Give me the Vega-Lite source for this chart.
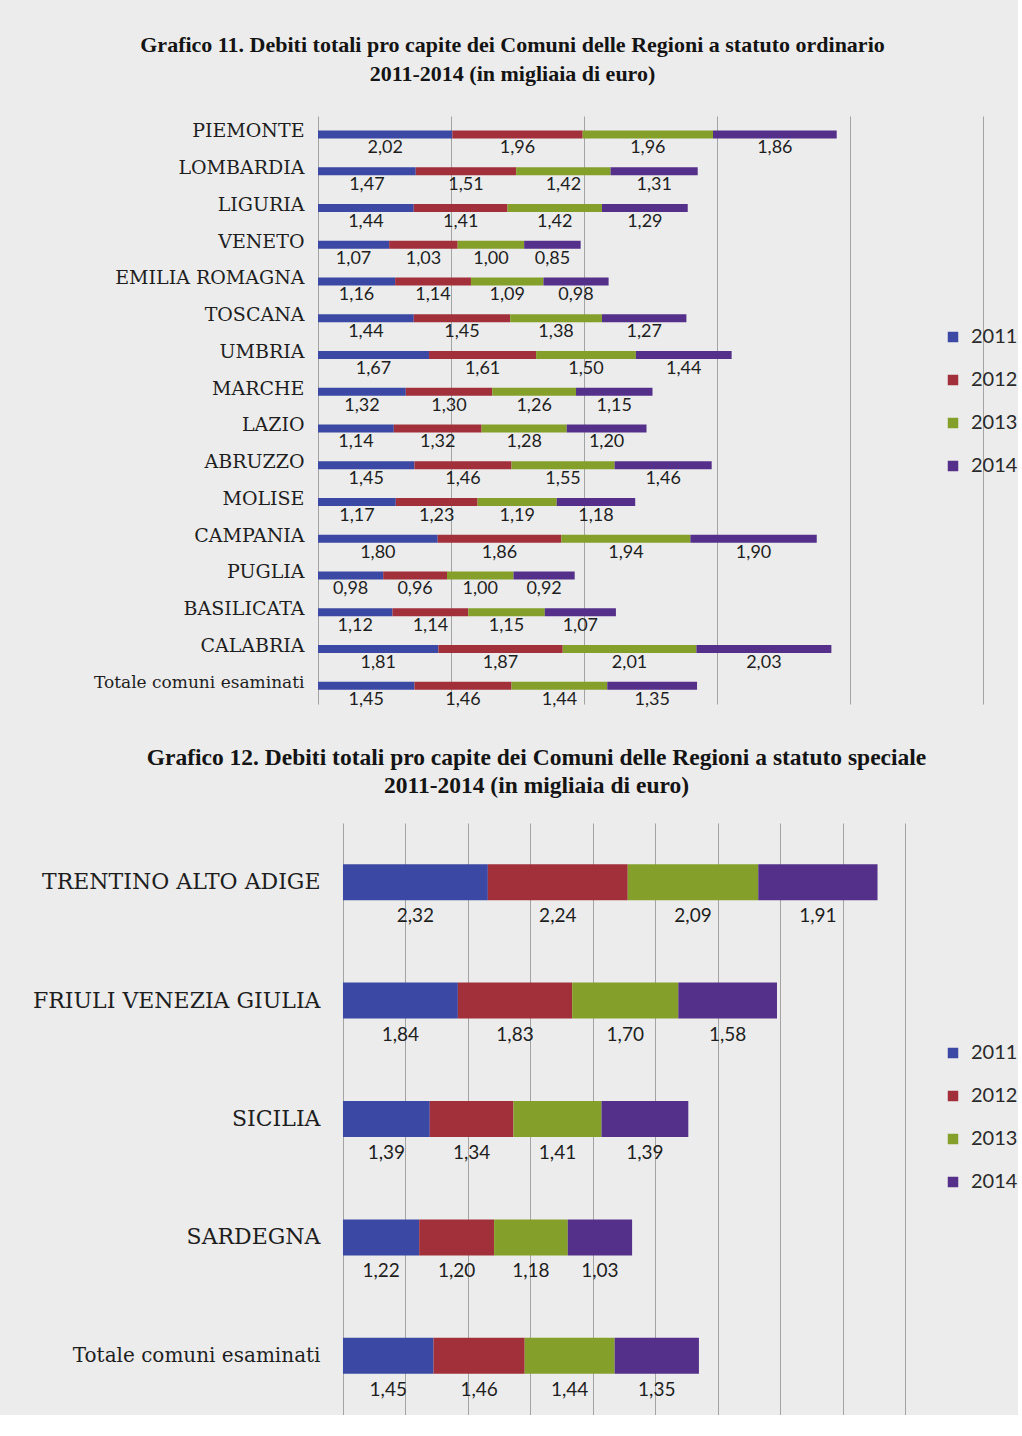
{
  "$schema": "https://vega.github.io/schema/vega-lite/v6.json",
  "background": "#ececec",
  "padding": {"left": 0, "top": 34, "right": 0, "bottom": 0},
  "autosize": {"type": "pad"},
  "bounds": "flush",
  "spacing": 119,
  "config": {
    "locale": {"number": {"decimal": ",", "thousands": ".", "grouping": [3], "currency": ["€", ""]}},
    "view": {"stroke": null},
    "axis": {"gridColor": "#a3a3a3", "gridOpacity": 1, "gridWidth": 1, "domain": false, "ticks": false},
    "legend": {"symbolStrokeWidth": 0},
    "title": {"font": "Liberation Serif", "fontSize": 22, "fontWeight": "bold", "color": "#141414", "lineHeight": 29, "anchor": "middle", "frame": "group"}
  },
  "resolve": {"scale": {"color": "independent"}, "legend": {"color": "independent"}},
  "vconcat": [
    {
      "width": 665,
      "height": 588,
      "title": {"text": ["Grafico 11. Debiti totali pro capite dei Comuni delle Regioni a statuto ordinario", "2011-2014 (in migliaia di euro)"], "dx": -138, "offset": 30},
      "data": {"values": [
        {"region": "PIEMONTE", "year": "2011", "value": 2.02}, {"region": "PIEMONTE", "year": "2012", "value": 1.96}, {"region": "PIEMONTE", "year": "2013", "value": 1.96}, {"region": "PIEMONTE", "year": "2014", "value": 1.86},
        {"region": "LOMBARDIA", "year": "2011", "value": 1.47}, {"region": "LOMBARDIA", "year": "2012", "value": 1.51}, {"region": "LOMBARDIA", "year": "2013", "value": 1.42}, {"region": "LOMBARDIA", "year": "2014", "value": 1.31},
        {"region": "LIGURIA", "year": "2011", "value": 1.44}, {"region": "LIGURIA", "year": "2012", "value": 1.41}, {"region": "LIGURIA", "year": "2013", "value": 1.42}, {"region": "LIGURIA", "year": "2014", "value": 1.29},
        {"region": "VENETO", "year": "2011", "value": 1.07}, {"region": "VENETO", "year": "2012", "value": 1.03}, {"region": "VENETO", "year": "2013", "value": 1.00}, {"region": "VENETO", "year": "2014", "value": 0.85},
        {"region": "EMILIA ROMAGNA", "year": "2011", "value": 1.16}, {"region": "EMILIA ROMAGNA", "year": "2012", "value": 1.14}, {"region": "EMILIA ROMAGNA", "year": "2013", "value": 1.09}, {"region": "EMILIA ROMAGNA", "year": "2014", "value": 0.98},
        {"region": "TOSCANA", "year": "2011", "value": 1.44}, {"region": "TOSCANA", "year": "2012", "value": 1.45}, {"region": "TOSCANA", "year": "2013", "value": 1.38}, {"region": "TOSCANA", "year": "2014", "value": 1.27},
        {"region": "UMBRIA", "year": "2011", "value": 1.67}, {"region": "UMBRIA", "year": "2012", "value": 1.61}, {"region": "UMBRIA", "year": "2013", "value": 1.50}, {"region": "UMBRIA", "year": "2014", "value": 1.44},
        {"region": "MARCHE", "year": "2011", "value": 1.32}, {"region": "MARCHE", "year": "2012", "value": 1.30}, {"region": "MARCHE", "year": "2013", "value": 1.26}, {"region": "MARCHE", "year": "2014", "value": 1.15},
        {"region": "LAZIO", "year": "2011", "value": 1.14}, {"region": "LAZIO", "year": "2012", "value": 1.32}, {"region": "LAZIO", "year": "2013", "value": 1.28}, {"region": "LAZIO", "year": "2014", "value": 1.20},
        {"region": "ABRUZZO", "year": "2011", "value": 1.45}, {"region": "ABRUZZO", "year": "2012", "value": 1.46}, {"region": "ABRUZZO", "year": "2013", "value": 1.55}, {"region": "ABRUZZO", "year": "2014", "value": 1.46},
        {"region": "MOLISE", "year": "2011", "value": 1.17}, {"region": "MOLISE", "year": "2012", "value": 1.23}, {"region": "MOLISE", "year": "2013", "value": 1.19}, {"region": "MOLISE", "year": "2014", "value": 1.18},
        {"region": "CAMPANIA", "year": "2011", "value": 1.80}, {"region": "CAMPANIA", "year": "2012", "value": 1.86}, {"region": "CAMPANIA", "year": "2013", "value": 1.94}, {"region": "CAMPANIA", "year": "2014", "value": 1.90},
        {"region": "PUGLIA", "year": "2011", "value": 0.98}, {"region": "PUGLIA", "year": "2012", "value": 0.96}, {"region": "PUGLIA", "year": "2013", "value": 1.00}, {"region": "PUGLIA", "year": "2014", "value": 0.92},
        {"region": "BASILICATA", "year": "2011", "value": 1.12}, {"region": "BASILICATA", "year": "2012", "value": 1.14}, {"region": "BASILICATA", "year": "2013", "value": 1.15}, {"region": "BASILICATA", "year": "2014", "value": 1.07},
        {"region": "CALABRIA", "year": "2011", "value": 1.81}, {"region": "CALABRIA", "year": "2012", "value": 1.87}, {"region": "CALABRIA", "year": "2013", "value": 2.01}, {"region": "CALABRIA", "year": "2014", "value": 2.03},
        {"region": "Totale comuni esaminati", "year": "2011", "value": 1.45}, {"region": "Totale comuni esaminati", "year": "2012", "value": 1.46}, {"region": "Totale comuni esaminati", "year": "2013", "value": 1.44}, {"region": "Totale comuni esaminati", "year": "2014", "value": 1.35}
      ]},
      "encoding": {
        "y": {
          "field": "region", "type": "nominal", "sort": null,
          "scale": {"paddingInner": 0, "paddingOuter": 0},
          "axis": {
            "title": ".", "titleX": -318, "titleY": 0, "titleAngle": 0, "titleAlign": "left", "titleBaseline": "top", "titleOpacity": 0,
            "labelFont": "DejaVu Serif",
            "labelFontSize": {"condition": {"test": "datum.value === 'Totale comuni esaminati'", "value": 17}, "value": 19},
            "labelColor": "#1e1e1e", "labelPadding": 14, "labelLimit": 400, "labelOffset": -3
          }
        }
      },
      "layer": [
        {
          "mark": {"type": "bar", "size": 8},
          "encoding": {
            "x": {"field": "value", "type": "quantitative", "stack": "zero", "scale": {"domain": [0, 10], "nice": false}, "axis": {"values": [0, 2, 4, 6, 8, 10], "labels": false, "title": null, "grid": true}},
            "color": {"field": "year", "type": "nominal", "scale": {"domain": ["2011", "2012", "2013", "2014"], "range": ["#3b48a4", "#a2303b", "#84a02b", "#54308a"]},
              "legend": {"orient": "none", "legendX": 625, "legendY": 211, "title": null, "symbolType": "square", "symbolSize": 110, "labelFont": "Lato", "labelFontSize": 20, "labelColor": "#2a2a2a", "rowPadding": 23, "labelOffset": 8}},
            "order": {"field": "year", "sort": "ascending"}
          }
        },
        {
          "mark": {"type": "text", "dy": 14, "font": "Lato", "fontSize": 18, "color": "#1e1e1e"},
          "encoding": {
            "x": {"field": "value", "type": "quantitative", "stack": "zero", "bandPosition": 0.5},
            "detail": {"field": "year"},
            "order": {"field": "year", "sort": "ascending"},
            "text": {"field": "value", "type": "quantitative", "format": ".2f"}
          }
        }
      ]
    },
    {
      "width": 587,
      "height": 592,
      "title": {"text": ["Grafico 12. Debiti totali pro capite dei Comuni delle Regioni a statuto speciale", "2011-2014 (in migliaia di euro)"], "dx": -75, "offset": 26, "fontSize": 23.5, "lineHeight": 28},
      "data": {"values": [
        {"region": "TRENTINO ALTO ADIGE", "year": "2011", "value": 2.32}, {"region": "TRENTINO ALTO ADIGE", "year": "2012", "value": 2.24}, {"region": "TRENTINO ALTO ADIGE", "year": "2013", "value": 2.09}, {"region": "TRENTINO ALTO ADIGE", "year": "2014", "value": 1.91},
        {"region": "FRIULI VENEZIA GIULIA", "year": "2011", "value": 1.84}, {"region": "FRIULI VENEZIA GIULIA", "year": "2012", "value": 1.83}, {"region": "FRIULI VENEZIA GIULIA", "year": "2013", "value": 1.70}, {"region": "FRIULI VENEZIA GIULIA", "year": "2014", "value": 1.58},
        {"region": "SICILIA", "year": "2011", "value": 1.39}, {"region": "SICILIA", "year": "2012", "value": 1.34}, {"region": "SICILIA", "year": "2013", "value": 1.41}, {"region": "SICILIA", "year": "2014", "value": 1.39},
        {"region": "SARDEGNA", "year": "2011", "value": 1.22}, {"region": "SARDEGNA", "year": "2012", "value": 1.20}, {"region": "SARDEGNA", "year": "2013", "value": 1.18}, {"region": "SARDEGNA", "year": "2014", "value": 1.03},
        {"region": "Totale comuni esaminati", "year": "2011", "value": 1.45}, {"region": "Totale comuni esaminati", "year": "2012", "value": 1.46}, {"region": "Totale comuni esaminati", "year": "2013", "value": 1.44}, {"region": "Totale comuni esaminati", "year": "2014", "value": 1.35}
      ]},
      "encoding": {
        "y": {
          "field": "region", "type": "nominal", "sort": null,
          "scale": {"paddingInner": 0, "paddingOuter": 0},
          "axis": {
            "title": null,
            "labelFont": "DejaVu Serif",
            "labelFontSize": {"condition": {"test": "datum.value === 'Totale comuni esaminati'", "value": 20}, "value": 22},
            "labelColor": "#1e1e1e", "labelPadding": -2, "labelLimit": 400
          }
        }
      },
      "layer": [
        {
          "mark": {"type": "bar", "size": 36},
          "encoding": {
            "x": {"field": "value", "type": "quantitative", "stack": "zero", "scale": {"domain": [-0.4, 9], "nice": false, "zero": false}, "axis": {"values": [0, 1, 2, 3, 4, 5, 6, 7, 8, 9], "labels": false, "title": null, "grid": true}},
            "color": {"field": "year", "type": "nominal", "scale": {"domain": ["2011", "2012", "2013", "2014"], "range": ["#3b48a4", "#a2303b", "#84a02b", "#54308a"]},
              "legend": {"orient": "none", "legendX": 625, "legendY": 220, "title": null, "symbolType": "square", "symbolSize": 110, "labelFont": "Lato", "labelFontSize": 20, "labelColor": "#2a2a2a", "rowPadding": 23, "labelOffset": 8}},
            "order": {"field": "year", "sort": "ascending"}
          }
        },
        {
          "mark": {"type": "text", "dy": 34, "font": "Lato", "fontSize": 19, "color": "#1e1e1e"},
          "encoding": {
            "x": {"field": "value", "type": "quantitative", "stack": "zero", "bandPosition": 0.5},
            "detail": {"field": "year"},
            "order": {"field": "year", "sort": "ascending"},
            "text": {"field": "value", "type": "quantitative", "format": ".2f"}
          }
        }
      ]
    }
  ]
}
